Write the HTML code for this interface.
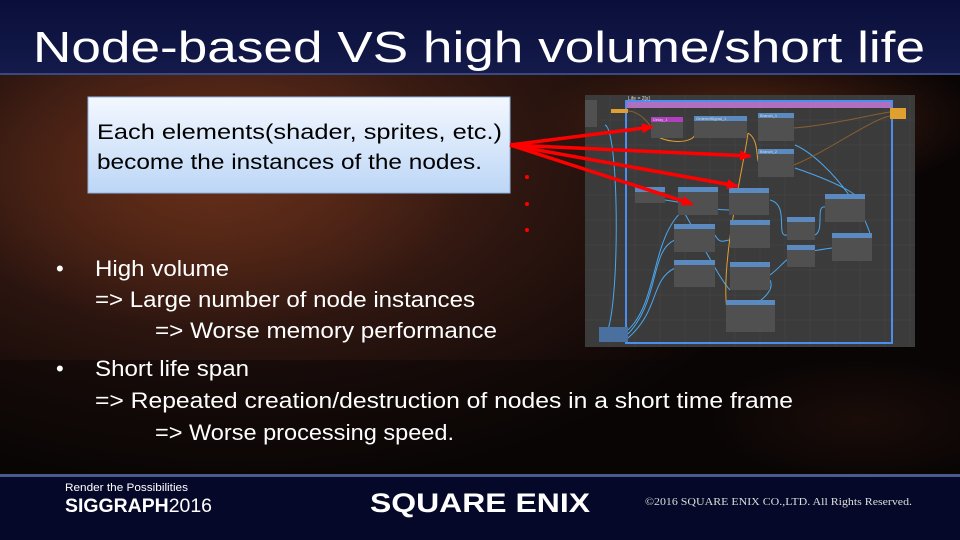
<!DOCTYPE html>
<html><head><meta charset="utf-8"><style>
html,body{margin:0;padding:0;background:#000;}
svg{display:block;font-family:"Liberation Sans","Noto Sans CJK JP",sans-serif;}
</style></head><body>
<svg width="960" height="540" viewBox="0 0 960 540" xmlns="http://www.w3.org/2000/svg">
<defs>
<linearGradient id="hdr" x1="0" y1="0" x2="0" y2="1"><stop offset="0" stop-color="#0a0f3a"/><stop offset="1" stop-color="#141a4a"/></linearGradient>
<radialGradient id="smoke1" cx="0.25" cy="0.3" r="0.6"><stop offset="0" stop-color="#5a2a1a"/><stop offset="0.5" stop-color="#2e1610"/><stop offset="1" stop-color="#0a0505"/></radialGradient>
<radialGradient id="smoke2" cx="0.5" cy="0.5" r="0.5"><stop offset="0" stop-color="#6a3018" stop-opacity="0.7"/><stop offset="1" stop-color="#6a3018" stop-opacity="0"/></radialGradient>
<linearGradient id="box" x1="0" y1="0" x2="0" y2="1"><stop offset="0" stop-color="#f4f8ff"/><stop offset="1" stop-color="#bcd6f6"/></linearGradient>
<marker id="ah" markerWidth="12" markerHeight="10" refX="10" refY="5" orient="auto" markerUnits="userSpaceOnUse"><path d="M0,0 L12,5 L0,10z" fill="#f00"/></marker>
</defs>
<rect width="960" height="540" fill="url(#smoke1)"/>
<ellipse cx="200" cy="180" rx="260" ry="150" fill="url(#smoke2)"/>
<ellipse cx="760" cy="120" rx="220" ry="80" fill="url(#smoke2)"/>
<ellipse cx="860" cy="420" rx="150" ry="60" fill="url(#smoke2)" opacity="0.5"/>
<rect x="0" y="360" width="960" height="116" fill="#0a0505" opacity="0.5"/>
<rect width="960" height="74" fill="url(#hdr)"/>
<rect y="73" width="960" height="2" fill="#3a4a80"/>
<text x="33" y="62" font-size="44" fill="#fff" textLength="892" lengthAdjust="spacingAndGlyphs">Node-based VS high volume/short life</text>

<rect x="88" y="97" width="422" height="96" fill="url(#box)" stroke="#8fb4e0"/>
<text x="97" y="139" font-size="21" fill="#000" textLength="405" lengthAdjust="spacingAndGlyphs">Each elements(shader, sprites, etc.)</text>
<text x="97" y="169" font-size="21" fill="#000" textLength="385" lengthAdjust="spacingAndGlyphs">become the instances of the nodes.</text>

<g font-size="22" fill="#fff" lengthAdjust="spacingAndGlyphs">
<text x="56" y="276">•</text><text x="95" y="276" textLength="134" lengthAdjust="spacingAndGlyphs">High volume</text>
<text x="95" y="307" textLength="380" lengthAdjust="spacingAndGlyphs">=&gt; Large number of node instances</text>
<text x="155" y="338" textLength="342" lengthAdjust="spacingAndGlyphs">=&gt; Worse memory performance</text>
<text x="56" y="376">•</text><text x="95" y="376" textLength="154" lengthAdjust="spacingAndGlyphs">Short life span</text>
<text x="95" y="408" textLength="698" lengthAdjust="spacingAndGlyphs">=&gt; Repeated creation/destruction of nodes in a short time frame</text>
<text x="155" y="440" textLength="299" lengthAdjust="spacingAndGlyphs">=&gt; Worse processing speed.</text>
</g>

<!-- node graph -->
<rect x="585" y="95" width="330" height="252" fill="#3b3b3b"/>
<g stroke="#474747" stroke-width="0.5">
<path d="M585,120H915M585,145H915M585,170H915M585,195H915M585,220H915M585,245H915M585,270H915M585,295H915M585,320H915M610,95V347M635,95V347M660,95V347M685,95V347M710,95V347M735,95V347M760,95V347M785,95V347M810,95V347M835,95V347M860,95V347M885,95V347M910,95V347"/>
</g>
<rect x="626" y="101" width="266" height="242" fill="none" stroke="#4a8ff0" stroke-width="2"/>
<rect x="627" y="102" width="264" height="6" fill="#b070c0"/>
<text x="628" y="100" font-size="5" fill="#ddd">Life = 2[s]</text>
<g fill="none" stroke-width="1">
<path d="M605,125 C620,130 620,320 605,335" stroke="#4aa8f0"/>
<path d="M628,330 C660,300 650,230 690,205" stroke="#4aa8f0"/>
<path d="M628,334 C660,300 650,250 675,240" stroke="#4aa8f0"/>
<path d="M628,338 C660,310 650,280 675,268" stroke="#4aa8f0"/>
<path d="M795,168 C830,180 880,200 860,215" stroke="#4aa8f0"/>
<path d="M795,145 C830,160 880,230 870,248" stroke="#4aa8f0"/>
<path d="M770,200 C790,205 775,238 787,235" stroke="#4aa8f0"/>
<path d="M815,235 C825,230 815,205 825,207" stroke="#4aa8f0"/>
<path d="M770,275 C790,260 780,255 832,248" stroke="#4aa8f0"/>
<path d="M770,280 C780,300 720,320 730,325" stroke="#4aa8f0"/>
<path d="M665,200 C700,205 710,210 730,210" stroke="#4aa8f0"/>
<path d="M680,205 C700,240 720,280 730,290" stroke="#4aa8f0"/>
<path d="M715,235 C720,245 725,240 730,240" stroke="#4aa8f0"/>
<path d="M660,128 C640,140 700,150 695,130" stroke="#e0a030"/>
<path d="M748,133 C745,160 720,260 727,310" stroke="#e0a030"/>
<path d="M748,133 C760,140 755,160 760,165" stroke="#e0a030"/>
<path d="M794,128 C830,125 870,115 890,112" stroke="#8a6030"/>
<path d="M794,165 C830,150 870,120 890,116" stroke="#8a6030"/>
<path d="M628,111 C640,111 650,125 652,128" stroke="#8a6030"/>
</g>
<g font-size="4" fill="#ddd">
<rect x="651" y="117" width="32" height="21" fill="#505050"/><rect x="651" y="117" width="32" height="5" fill="#b040c0"/><text x="653" y="121">Delay_1</text>
<rect x="694" y="116" width="53" height="22" fill="#505050"/><rect x="694" y="116" width="53" height="5" fill="#5a8ac0"/><text x="696" y="120">OrderedSignal_1</text>
<rect x="758" y="113" width="36" height="28" fill="#505050"/><rect x="758" y="113" width="36" height="5" fill="#5a8ac0"/><text x="760" y="117">Branch_1</text>
<rect x="758" y="149" width="36" height="28" fill="#505050"/><rect x="758" y="149" width="36" height="5" fill="#5a8ac0"/><text x="760" y="153">Branch_2</text>
<rect x="635" y="187" width="30" height="16" fill="#505050"/><rect x="635" y="187" width="30" height="5" fill="#5a8ac0"/>
<rect x="678" y="187" width="40" height="28" fill="#505050"/><rect x="678" y="187" width="40" height="5" fill="#5a8ac0"/>
<rect x="729" y="188" width="40" height="27" fill="#505050"/><rect x="729" y="188" width="40" height="5" fill="#5a8ac0"/>
<rect x="825" y="194" width="40" height="28" fill="#505050"/><rect x="825" y="194" width="40" height="5" fill="#5a8ac0"/>
<rect x="674" y="224" width="41" height="28" fill="#505050"/><rect x="674" y="224" width="41" height="5" fill="#5a8ac0"/>
<rect x="730" y="220" width="40" height="28" fill="#505050"/><rect x="730" y="220" width="40" height="5" fill="#5a8ac0"/>
<rect x="787" y="217" width="28" height="23" fill="#505050"/><rect x="787" y="217" width="28" height="5" fill="#5a8ac0"/>
<rect x="832" y="233" width="40" height="28" fill="#505050"/><rect x="832" y="233" width="40" height="5" fill="#5a8ac0"/>
<rect x="787" y="245" width="28" height="22" fill="#505050"/><rect x="787" y="245" width="28" height="5" fill="#5a8ac0"/>
<rect x="674" y="260" width="41" height="27" fill="#505050"/><rect x="674" y="260" width="41" height="5" fill="#5a8ac0"/>
<rect x="730" y="262" width="40" height="28" fill="#505050"/><rect x="730" y="262" width="40" height="5" fill="#5a8ac0"/>
<rect x="726" y="300" width="49" height="32" fill="#505050"/><rect x="726" y="300" width="49" height="5" fill="#5a8ac0"/>
<rect x="599" y="327" width="29" height="15" fill="#4a70a0"/>
<rect x="585" y="100" width="12" height="27" fill="#505050"/>
<rect x="611" y="109" width="17" height="4" fill="#e0a030"/>
<rect x="890" y="108" width="16" height="11" fill="#e0a030"/>
</g>

<!-- red arrows -->
<g stroke="#f00" stroke-width="3.5" marker-end="url(#ah)">
<line x1="510" y1="145" x2="652" y2="127"/>
<line x1="510" y1="145" x2="750" y2="156"/>
<line x1="510" y1="145" x2="737" y2="186"/>
<line x1="510" y1="145" x2="692" y2="204"/>
</g>
<g fill="#f00"><circle cx="527" cy="177" r="2"/><circle cx="527" cy="204" r="2"/><circle cx="527" cy="230" r="2"/></g>

<!-- footer -->
<rect y="476" width="960" height="64" fill="#050828"/>
<rect y="474" width="960" height="3" fill="#4a5a8a"/>
<text x="65" y="491" font-size="11" fill="#fff" textLength="123" lengthAdjust="spacingAndGlyphs">Render the Possibilities</text>
<text x="65" y="512" font-size="19" font-weight="bold" fill="#fff" textLength="147" lengthAdjust="spacingAndGlyphs">SIGGRAPH<tspan font-weight="normal">2016</tspan></text>
<text x="370" y="512" font-size="27" font-weight="bold" fill="#fff" textLength="220" lengthAdjust="spacingAndGlyphs">SQUARE ENIX</text>
<text x="645" y="505" font-size="10" fill="#ddd" font-family="Liberation Serif, serif" textLength="267" lengthAdjust="spacingAndGlyphs">©2016 SQUARE ENIX CO.,LTD. All Rights Reserved.</text>
</svg>
</body></html>
